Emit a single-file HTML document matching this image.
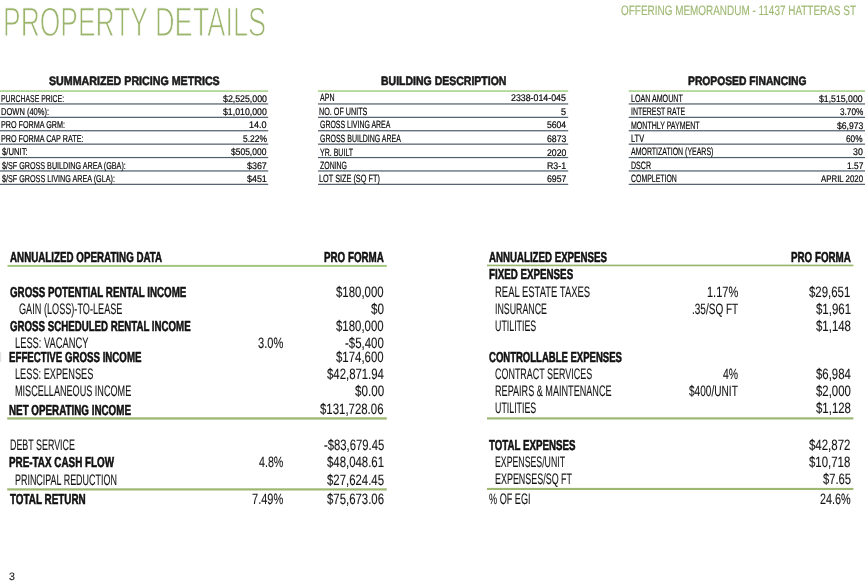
<!DOCTYPE html>
<html><head><meta charset="utf-8"><title>Property Details</title>
<style>
html,body{margin:0;padding:0;background:#fff;}
body{width:865px;height:588px;position:relative;overflow:hidden;text-rendering:geometricPrecision;font-family:"Liberation Sans",sans-serif;}
.t{position:absolute;white-space:nowrap;line-height:1;transform-origin:0 0;margin:0;padding:0;}
.b{font-weight:bold;-webkit-text-stroke:0.55px currentColor;}
.l{position:absolute;}
.title{-webkit-text-stroke:1.1px #fff;}
.hdr{-webkit-text-stroke:0.15px currentColor;}
.lt{-webkit-text-stroke:0.12px currentColor;}
.s3{-webkit-text-stroke:0.15px currentColor;}
.s{-webkit-text-stroke:0.2px currentColor;}
</style></head><body>
<svg width="865" height="588" viewBox="0 0 865 588" style="position:absolute;left:0;top:0">
<rect x="0.0" y="90.35" width="268.2" height="1.40" fill="#9ccb7c"/>
<rect x="0.0" y="103.35" width="268.2" height="1.20" fill="#4f5c69"/>
<rect x="0.0" y="116.75" width="268.2" height="1.20" fill="#4f5c69"/>
<rect x="0.0" y="130.15" width="268.2" height="1.20" fill="#4f5c69"/>
<rect x="0.0" y="143.55" width="268.2" height="1.20" fill="#4f5c69"/>
<rect x="0.0" y="156.95" width="268.2" height="1.20" fill="#4f5c69"/>
<rect x="0.0" y="170.35" width="268.2" height="1.20" fill="#4f5c69"/>
<rect x="0.0" y="183.75" width="268.2" height="1.20" fill="#4f5c69"/>
<rect x="318.0" y="90.35" width="250.2" height="1.40" fill="#9ccb7c"/>
<rect x="318.0" y="103.35" width="250.2" height="1.20" fill="#4f5c69"/>
<rect x="318.0" y="116.75" width="250.2" height="1.20" fill="#4f5c69"/>
<rect x="318.0" y="130.15" width="250.2" height="1.20" fill="#4f5c69"/>
<rect x="318.0" y="143.55" width="250.2" height="1.20" fill="#4f5c69"/>
<rect x="318.0" y="156.95" width="250.2" height="1.20" fill="#4f5c69"/>
<rect x="318.0" y="170.35" width="250.2" height="1.20" fill="#4f5c69"/>
<rect x="318.0" y="183.75" width="250.2" height="1.20" fill="#4f5c69"/>
<rect x="628.7" y="90.35" width="236.3" height="1.40" fill="#9ccb7c"/>
<rect x="628.7" y="103.35" width="236.3" height="1.20" fill="#4f5c69"/>
<rect x="628.7" y="116.75" width="236.3" height="1.20" fill="#4f5c69"/>
<rect x="628.7" y="130.15" width="236.3" height="1.20" fill="#4f5c69"/>
<rect x="628.7" y="143.55" width="236.3" height="1.20" fill="#4f5c69"/>
<rect x="628.7" y="156.95" width="236.3" height="1.20" fill="#4f5c69"/>
<rect x="628.7" y="170.35" width="236.3" height="1.20" fill="#4f5c69"/>
<rect x="628.7" y="183.75" width="236.3" height="1.20" fill="#4f5c69"/>
<rect x="0.0" y="352.00" width="1.2" height="10.00" fill="#e2e2e2"/>
<rect x="7.5" y="264.90" width="379.3" height="2.00" fill="#a2c880"/>
<rect x="7.2" y="417.30" width="379.6" height="2.30" fill="#9db873"/>
<rect x="7.2" y="488.30" width="379.6" height="2.20" fill="#9db873"/>
<rect x="487.0" y="264.60" width="366.4" height="1.70" fill="#98b872"/>
<rect x="487.0" y="417.30" width="366.4" height="2.20" fill="#9db873"/>
<rect x="487.0" y="487.90" width="366.4" height="2.10" fill="#9db873"/>
</svg>
<div class="t title" style="left:3.09px;top:2.00px;font-size:41.0px;color:#9bb56c;transform:scaleX(0.6447)">PROPERTY</div>
<div class="t title" style="left:155.33px;top:2.00px;font-size:41.0px;color:#9bb56c;transform:scaleX(0.6625)">DETAILS</div>
<div class="t hdr" style="left:621.35px;top:4.00px;font-size:13.6px;color:#9fb973;transform:scaleX(0.7314)">OFFERING MEMORANDUM - 11437 HATTERAS ST</div>
<div class="t b" style="left:49.48px;top:75.00px;font-size:12.2px;color:#1a1a1a;transform:scaleX(0.8755)">SUMMARIZED PRICING METRICS</div>
<div class="t b" style="left:380.62px;top:75.00px;font-size:12.2px;color:#1a1a1a;transform:scaleX(0.8616)">BUILDING DESCRIPTION</div>
<div class="t b" style="left:687.93px;top:75.00px;font-size:12.2px;color:#1a1a1a;transform:scaleX(0.8460)">PROPOSED FINANCING</div>
<div class="t s" style="left:1.25px;top:95.00px;font-size:10.0px;color:#080808;transform:scaleX(0.6878)">PURCHASE PRICE:</div>
<div class="t s" style="left:222.61px;top:95.00px;font-size:9.6px;color:#080808;transform:scaleX(0.9157)">$2,525,000</div>
<div class="t s" style="left:1.20px;top:108.00px;font-size:10.0px;color:#080808;transform:scaleX(0.7524)">DOWN (40%):</div>
<div class="t s" style="left:222.81px;top:108.00px;font-size:9.6px;color:#080808;transform:scaleX(0.9115)">$1,010,000</div>
<div class="t s" style="left:1.22px;top:121.00px;font-size:10.0px;color:#080808;transform:scaleX(0.7190)">PRO FORMA GRM:</div>
<div class="t s" style="left:249.02px;top:121.00px;font-size:9.6px;color:#080808;transform:scaleX(0.9423)">14.0</div>
<div class="t s" style="left:1.22px;top:135.00px;font-size:10.0px;color:#080808;transform:scaleX(0.7189)">PRO FORMA CAP RATE:</div>
<div class="t s" style="left:242.66px;top:135.00px;font-size:9.6px;color:#080808;transform:scaleX(0.8794)">5.22%</div>
<div class="t s" style="left:1.72px;top:148.00px;font-size:10.0px;color:#080808;transform:scaleX(0.7728)">$/UNIT:</div>
<div class="t s" style="left:231.22px;top:148.00px;font-size:9.6px;color:#080808;transform:scaleX(0.8838)">$505,000</div>
<div class="t s" style="left:1.73px;top:162.00px;font-size:10.0px;color:#080808;transform:scaleX(0.7186)">$/SF GROSS BUILDING AREA (GBA):</div>
<div class="t s" style="left:246.91px;top:162.00px;font-size:9.6px;color:#080808;transform:scaleX(0.9286)">$367</div>
<div class="t s" style="left:1.73px;top:175.00px;font-size:10.0px;color:#080808;transform:scaleX(0.7204)">$/SF GROSS LIVING AREA (GLA):</div>
<div class="t s" style="left:246.91px;top:175.00px;font-size:9.6px;color:#080808;transform:scaleX(0.9265)">$451</div>
<div class="t s" style="left:320.00px;top:93.00px;font-size:10.5px;color:#080808;transform:scaleX(0.6703)">APN</div>
<div class="t s" style="left:511.36px;top:94.00px;font-size:9.6px;color:#080808;transform:scaleX(0.9186)">2338-014-045</div>
<div class="t s" style="left:319.42px;top:107.00px;font-size:10.5px;color:#080808;transform:scaleX(0.6859)">NO. OF UNITS</div>
<div class="t s" style="left:561.24px;top:108.00px;font-size:9.6px;color:#080808;transform:scaleX(0.9430)">5</div>
<div class="t s" style="left:319.65px;top:120.00px;font-size:10.5px;color:#080808;transform:scaleX(0.6627)">GROSS LIVING AREA</div>
<div class="t s" style="left:546.96px;top:121.00px;font-size:9.6px;color:#080808;transform:scaleX(0.8970)">5604</div>
<div class="t s" style="left:319.65px;top:134.00px;font-size:10.5px;color:#080808;transform:scaleX(0.6664)">GROSS BUILDING AREA</div>
<div class="t s" style="left:546.86px;top:135.00px;font-size:9.6px;color:#080808;transform:scaleX(0.9075)">6873</div>
<div class="t s" style="left:319.86px;top:148.00px;font-size:10.5px;color:#080808;transform:scaleX(0.6696)">YR. BUILT</div>
<div class="t s" style="left:546.87px;top:149.00px;font-size:9.6px;color:#080808;transform:scaleX(0.9054)">2020</div>
<div class="t s" style="left:319.79px;top:161.00px;font-size:10.5px;color:#080808;transform:scaleX(0.6618)">ZONING</div>
<div class="t s" style="left:547.19px;top:162.00px;font-size:9.6px;color:#080808;transform:scaleX(0.9191)">R3-1</div>
<div class="t s" style="left:319.41px;top:174.00px;font-size:10.5px;color:#080808;transform:scaleX(0.6967)">LOT SIZE (SQ FT)</div>
<div class="t s" style="left:546.86px;top:175.00px;font-size:9.6px;color:#080808;transform:scaleX(0.9118)">6957</div>
<div class="t s" style="left:630.63px;top:94.00px;font-size:10.6px;color:#080808;transform:scaleX(0.6714)">LOAN AMOUNT</div>
<div class="t s" style="left:819.31px;top:95.00px;font-size:9.6px;color:#080808;transform:scaleX(0.9073)">$1,515,000</div>
<div class="t s" style="left:630.58px;top:107.00px;font-size:10.6px;color:#080808;transform:scaleX(0.6548)">INTEREST RATE</div>
<div class="t s" style="left:839.57px;top:108.00px;font-size:9.6px;color:#080808;transform:scaleX(0.8567)">3.70%</div>
<div class="t s" style="left:630.64px;top:121.00px;font-size:10.6px;color:#080808;transform:scaleX(0.6631)">MONTHLY PAYMENT</div>
<div class="t s" style="left:836.61px;top:122.00px;font-size:9.6px;color:#080808;transform:scaleX(0.8963)">$6,973</div>
<div class="t s" style="left:630.60px;top:134.00px;font-size:10.6px;color:#080808;transform:scaleX(0.7019)">LTV</div>
<div class="t s" style="left:846.39px;top:135.00px;font-size:9.6px;color:#080808;transform:scaleX(0.8594)">60%</div>
<div class="t s" style="left:631.20px;top:147.00px;font-size:10.6px;color:#080808;transform:scaleX(0.6592)">AMORTIZATION (YEARS)</div>
<div class="t s" style="left:853.15px;top:148.00px;font-size:9.6px;color:#080808;transform:scaleX(0.9159)">30</div>
<div class="t s" style="left:630.63px;top:161.00px;font-size:10.6px;color:#080808;transform:scaleX(0.6696)">DSCR</div>
<div class="t s" style="left:846.67px;top:162.00px;font-size:9.6px;color:#080808;transform:scaleX(0.8757)">1.57</div>
<div class="t s" style="left:630.85px;top:174.00px;font-size:10.6px;color:#080808;transform:scaleX(0.6537)">COMPLETION</div>
<div class="t s" style="left:820.80px;top:175.00px;font-size:9.6px;color:#080808;transform:scaleX(0.8185)">APRIL 2020</div>
<div class="t b" style="left:9.76px;top:251.00px;font-size:14.4px;color:#111;transform:scaleX(0.6799)">ANNUALIZED OPERATING DATA</div>
<div class="t b" style="left:324.16px;top:251.00px;font-size:14.4px;color:#111;transform:scaleX(0.6806)">PRO FORMA</div>
<div class="t b" style="left:9.61px;top:286.00px;font-size:14.4px;color:#111;transform:scaleX(0.6786)">GROSS POTENTIAL RENTAL INCOME</div>
<div class="t lt" style="left:336.29px;top:285.00px;font-size:15.0px;color:#141414;transform:scaleX(0.7612)">$180,000</div>
<div class="t lt" style="left:18.84px;top:302.00px;font-size:15.2px;color:#141414;transform:scaleX(0.6019)">GAIN (LOSS)-TO-LEASE</div>
<div class="t lt" style="left:370.88px;top:302.00px;font-size:15.0px;color:#141414;transform:scaleX(0.7825)">$0</div>
<div class="t b" style="left:9.61px;top:320.00px;font-size:14.4px;color:#111;transform:scaleX(0.6737)">GROSS SCHEDULED RENTAL INCOME</div>
<div class="t lt" style="left:336.29px;top:319.00px;font-size:15.0px;color:#141414;transform:scaleX(0.7612)">$180,000</div>
<div class="t lt" style="left:15.05px;top:336.00px;font-size:15.2px;color:#141414;transform:scaleX(0.6139)">LESS: VACANCY</div>
<div class="t lt" style="left:257.76px;top:336.00px;font-size:15.0px;color:#141414;transform:scaleX(0.7407)">3.0%</div>
<div class="t lt" style="left:345.08px;top:336.00px;font-size:15.0px;color:#141414;transform:scaleX(0.7633)">-$5,400</div>
<div class="t b" style="left:9.37px;top:351.00px;font-size:14.4px;color:#111;transform:scaleX(0.6732)">EFFECTIVE GROSS INCOME</div>
<div class="t lt" style="left:336.29px;top:350.00px;font-size:15.0px;color:#141414;transform:scaleX(0.7612)">$174,600</div>
<div class="t lt" style="left:15.06px;top:367.00px;font-size:15.2px;color:#141414;transform:scaleX(0.6064)">LESS: EXPENSES</div>
<div class="t lt" style="left:326.89px;top:367.00px;font-size:15.0px;color:#141414;transform:scaleX(0.7579)">$42,871.94</div>
<div class="t lt" style="left:15.07px;top:384.00px;font-size:15.2px;color:#141414;transform:scaleX(0.5987)">MISCELLANEOUS INCOME</div>
<div class="t lt" style="left:354.78px;top:384.00px;font-size:15.0px;color:#141414;transform:scaleX(0.7766)">$0.00</div>
<div class="t b" style="left:9.36px;top:404.00px;font-size:14.4px;color:#111;transform:scaleX(0.6818)">NET OPERATING INCOME</div>
<div class="t lt" style="left:320.49px;top:402.00px;font-size:15.0px;color:#141414;transform:scaleX(0.7610)">$131,728.06</div>
<div class="t lt" style="left:9.59px;top:438.00px;font-size:15.2px;color:#141414;transform:scaleX(0.5859)">DEBT SERVICE</div>
<div class="t lt" style="left:323.79px;top:438.00px;font-size:15.0px;color:#141414;transform:scaleX(0.7517)">-$83,679.45</div>
<div class="t b" style="left:9.36px;top:456.00px;font-size:14.4px;color:#111;transform:scaleX(0.6856)">PRE-TAX CASH FLOW</div>
<div class="t lt" style="left:258.69px;top:455.00px;font-size:15.0px;color:#141414;transform:scaleX(0.7131)">4.8%</div>
<div class="t lt" style="left:326.99px;top:455.00px;font-size:15.0px;color:#141414;transform:scaleX(0.7596)">$48,048.61</div>
<div class="t lt" style="left:15.08px;top:473.00px;font-size:15.2px;color:#141414;transform:scaleX(0.5888)">PRINCIPAL REDUCTION</div>
<div class="t lt" style="left:326.99px;top:473.00px;font-size:15.0px;color:#141414;transform:scaleX(0.7588)">$27,624.45</div>
<div class="t b" style="left:9.90px;top:493.00px;font-size:14.4px;color:#111;transform:scaleX(0.6862)">TOTAL RETURN</div>
<div class="t lt" style="left:251.85px;top:492.00px;font-size:15.0px;color:#141414;transform:scaleX(0.7345)">7.49%</div>
<div class="t lt" style="left:326.99px;top:492.00px;font-size:15.0px;color:#141414;transform:scaleX(0.7588)">$75,673.06</div>
<div class="t b" style="left:489.06px;top:251.00px;font-size:14.4px;color:#111;transform:scaleX(0.6735)">ANNUALIZED EXPENSES</div>
<div class="t b" style="left:791.06px;top:251.00px;font-size:14.4px;color:#111;transform:scaleX(0.6806)">PRO FORMA</div>
<div class="t b" style="left:488.66px;top:268.00px;font-size:14.4px;color:#111;transform:scaleX(0.6789)">FIXED EXPENSES</div>
<div class="t lt" style="left:495.04px;top:285.00px;font-size:15.2px;color:#141414;transform:scaleX(0.6228)">REAL ESTATE TAXES</div>
<div class="t lt" style="left:706.97px;top:285.00px;font-size:15.0px;color:#141414;transform:scaleX(0.7339)">1.17%</div>
<div class="t lt" style="left:809.39px;top:285.00px;font-size:15.0px;color:#141414;transform:scaleX(0.7622)">$29,651</div>
<div class="t lt" style="left:495.01px;top:302.00px;font-size:15.2px;color:#141414;transform:scaleX(0.5802)">INSURANCE</div>
<div class="t lt" style="left:691.80px;top:302.00px;font-size:15.0px;color:#141414;transform:scaleX(0.6681)">.35/SQ FT</div>
<div class="t lt" style="left:815.69px;top:302.00px;font-size:15.0px;color:#141414;transform:scaleX(0.7632)">$1,961</div>
<div class="t lt" style="left:495.14px;top:319.00px;font-size:15.2px;color:#141414;transform:scaleX(0.5819)">UTILITIES</div>
<div class="t lt" style="left:815.69px;top:319.00px;font-size:15.0px;color:#141414;transform:scaleX(0.7619)">$1,148</div>
<div class="t b" style="left:488.92px;top:351.00px;font-size:14.4px;color:#111;transform:scaleX(0.6619)">CONTROLLABLE EXPENSES</div>
<div class="t lt" style="left:495.35px;top:367.00px;font-size:15.2px;color:#141414;transform:scaleX(0.5891)">CONTRACT SERVICES</div>
<div class="t lt" style="left:723.09px;top:367.00px;font-size:15.0px;color:#141414;transform:scaleX(0.6954)">4%</div>
<div class="t lt" style="left:815.69px;top:367.00px;font-size:15.0px;color:#141414;transform:scaleX(0.7581)">$6,984</div>
<div class="t lt" style="left:495.07px;top:384.00px;font-size:15.2px;color:#141414;transform:scaleX(0.5986)">REPAIRS &amp; MAINTENANCE</div>
<div class="t lt" style="left:689.20px;top:384.00px;font-size:15.0px;color:#141414;transform:scaleX(0.6729)">$400/UNIT</div>
<div class="t lt" style="left:815.69px;top:384.00px;font-size:15.0px;color:#141414;transform:scaleX(0.7606)">$2,000</div>
<div class="t lt" style="left:495.14px;top:401.00px;font-size:15.2px;color:#141414;transform:scaleX(0.5819)">UTILITIES</div>
<div class="t lt" style="left:815.69px;top:401.00px;font-size:15.0px;color:#141414;transform:scaleX(0.7619)">$1,128</div>
<div class="t b" style="left:489.20px;top:439.00px;font-size:14.4px;color:#111;transform:scaleX(0.6752)">TOTAL EXPENSES</div>
<div class="t lt" style="left:809.39px;top:438.00px;font-size:15.0px;color:#141414;transform:scaleX(0.7632)">$42,872</div>
<div class="t lt" style="left:495.10px;top:455.00px;font-size:15.2px;color:#141414;transform:scaleX(0.5763)">EXPENSES/UNIT</div>
<div class="t lt" style="left:809.39px;top:455.00px;font-size:15.0px;color:#141414;transform:scaleX(0.7611)">$10,718</div>
<div class="t lt" style="left:495.08px;top:472.00px;font-size:15.2px;color:#141414;transform:scaleX(0.5887)">EXPENSES/SQ FT</div>
<div class="t lt" style="left:822.59px;top:472.00px;font-size:15.0px;color:#141414;transform:scaleX(0.7483)">$7.65</div>
<div class="t lt" style="left:488.98px;top:492.00px;font-size:15.2px;color:#141414;transform:scaleX(0.6000)">% OF EGI</div>
<div class="t lt" style="left:819.86px;top:492.00px;font-size:15.0px;color:#141414;transform:scaleX(0.7224)">24.6%</div>
<div class="t s3" style="left:8.58px;top:572.00px;font-size:10.8px;color:#222;transform:scaleX(0.9747)">3</div>
</body></html>
